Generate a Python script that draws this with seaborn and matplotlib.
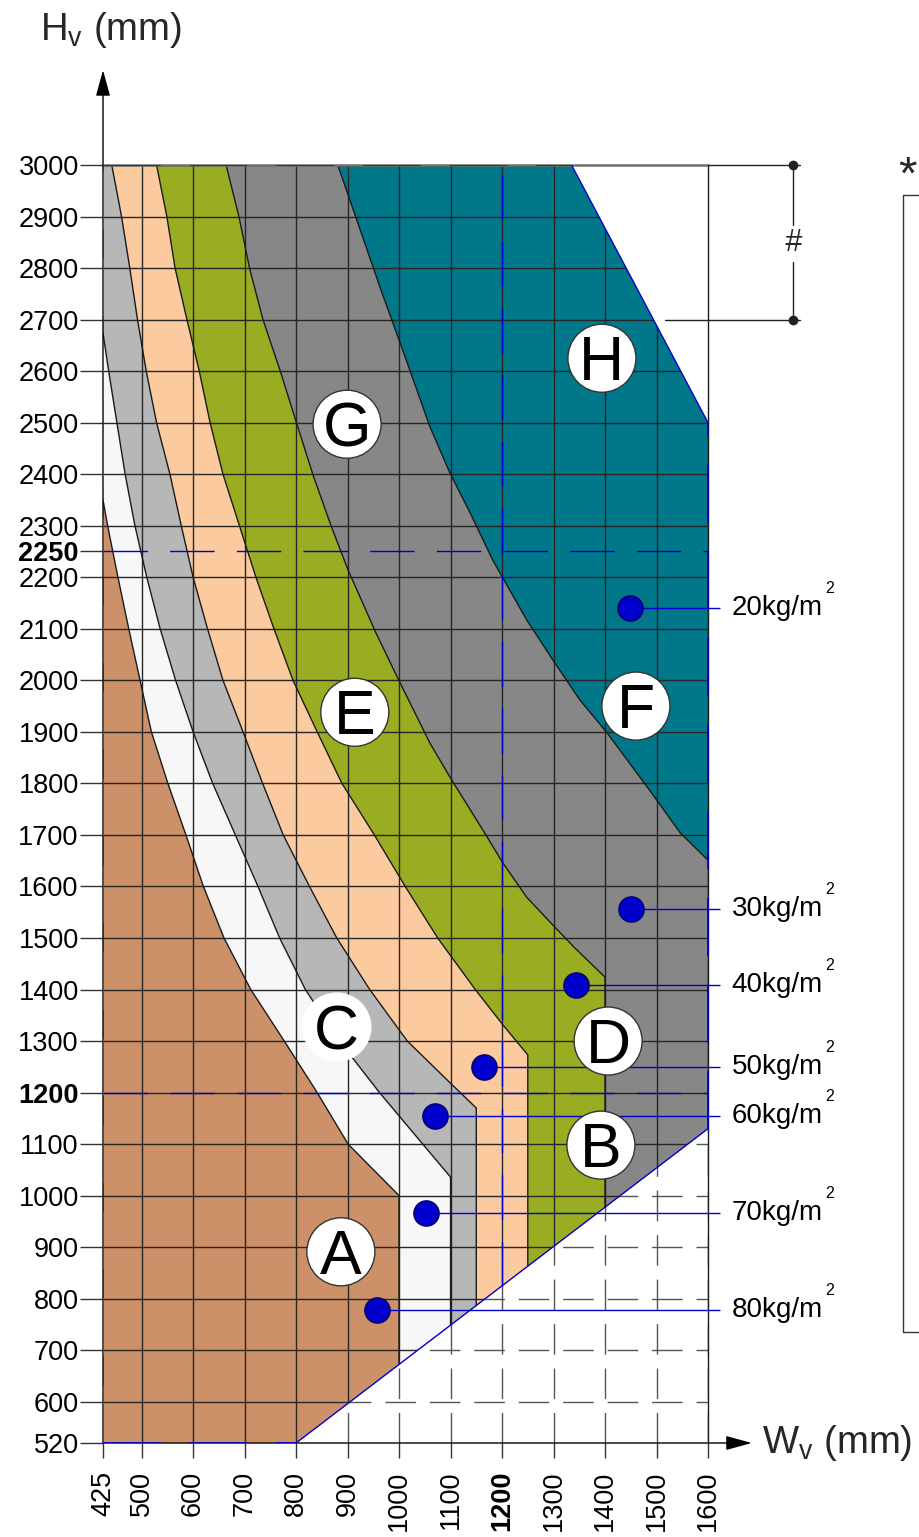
import numpy as np
import matplotlib
matplotlib.use('Agg')
import matplotlib.pyplot as plt
from matplotlib.patches import Polygon
import seaborn as sns

# ---------------- data ----------------
# band boundaries (Wv, Hv) from left (low) to right (high)
b1_w = [425, 434, 454, 475, 497, 519, 551, 586, 620, 660, 712, 777, 841, 901, 1000]
b1_h = [2350, 2300, 2200, 2100, 2000, 1900, 1800, 1700, 1600, 1500, 1400, 1300, 1200, 1100, 1000]
b2_w = [425, 436, 452, 468, 487, 510, 536, 566, 600, 638, 682, 726, 768, 818, 884, 962, 1046, 1100]
b2_h = [2674, 2600, 2500, 2400, 2300, 2200, 2100, 2000, 1900, 1800, 1700, 1600, 1500, 1400, 1300, 1200, 1100, 1036]
b3_w = [442, 461, 477, 492, 509, 529, 555, 577, 600, 628, 658, 697, 735, 775, 826, 879, 943, 1016, 1099, 1150]
b3_h = [3000, 2900, 2800, 2700, 2600, 2500, 2400, 2300, 2200, 2100, 2000, 1900, 1800, 1700, 1600, 1500, 1400, 1300, 1219, 1170]
b4_w = [529, 549, 565, 588, 612, 633, 658, 690, 722, 757, 794, 841, 889, 952, 1012, 1075, 1148, 1202, 1250]
b4_h = [3000, 2900, 2800, 2700, 2600, 2500, 2400, 2300, 2200, 2100, 2000, 1900, 1800, 1700, 1600, 1500, 1400, 1331, 1273]
b5_w = [664, 689, 710, 736, 770, 801, 833, 869, 901, 956, 1002, 1060, 1099, 1171, 1202, 1248, 1295, 1340, 1400]
b5_h = [3000, 2900, 2798, 2699, 2598, 2499, 2398, 2297, 2214, 2090, 1995, 1878, 1812, 1696, 1645, 1579, 1529, 1482, 1424]
b6_w = [881, 965, 1002, 1060, 1099, 1138, 1182, 1248, 1299, 1351, 1404, 1482, 1546, 1600]
b6_h = [3000, 2757, 2655, 2492, 2402, 2325, 2233, 2117, 2039, 1962, 1898, 1793, 1704, 1651]

# outer limits of the diagram
outer_w = [425, 800, 1600, 1600, 1335, 425]
outer_h = [520, 520, 1130, 2500, 3000, 3000]
diag_w = [800, 1600]
diag_h = [520, 1130]

# load points
dot_w = [1448, 1450, 1344, 1165, 1070, 1052, 957]
dot_h = [2140, 1556, 1409, 1250, 1154, 966, 778]
dot_lab = ['20', '30', '40', '50', '60', '70', '80']

# circled zone letters
lab_t = ['A', 'B', 'C', 'D', 'E', 'F', 'G', 'H']
lab_w = [887, 1392, 879, 1406, 914, 1460, 899, 1394]
lab_h = [891, 1098, 1327, 1300, 1938, 1950, 2497, 2625]

x_ticks = [425, 500, 600, 700, 800, 900, 1000, 1100, 1200, 1300, 1400, 1500, 1600]
y_ticks = [520, 600, 700, 800, 900, 1000, 1100, 1200, 1300, 1400, 1500, 1600, 1700,
           1800, 1900, 2000, 2100, 2200, 2250, 2300, 2400, 2500, 2600, 2700, 2800, 2900, 3000]
bold_ticks = [1200, 2250]

# ---------------- style ----------------
BROWN, WHITE, LGRAY, PEACH = '#CC9169', '#F7F7F7', '#B7B7B7', '#FBCA9F'
OLIVE, GRAY, TEAL = '#9AAD22', '#878787', '#00788A'
BLUE = '#0000CC'

sns.set_theme(style='white')
plt.rcParams['font.family'] = ['Liberation Sans', 'DejaVu Sans']
plt.rcParams['mathtext.fontset'] = 'custom'
plt.rcParams['mathtext.rm'] = 'Liberation Sans'
plt.rcParams['mathtext.it'] = 'Liberation Sans:italic'
plt.rcParams['mathtext.bf'] = 'Liberation Sans:bold'

fig = plt.figure(figsize=(9.19, 15.37), dpi=100)
fig.patch.set_facecolor('white')
ax = fig.add_axes([103 / 919, 1 - 1443 / 1537, 605 / 919, 1278 / 1537])
ax.set_xlim(425, 1600)
ax.set_ylim(520, 3000)
ax.set_facecolor('none')
for s in ax.spines.values():
    s.set_visible(False)

outer = Polygon(np.c_[outer_w, outer_h], closed=True, fc=TEAL, ec='none', zorder=1)
ax.add_patch(outer)
lower = Polygon([(800, 520), (1600, 1130), (1600, 520)], closed=True, fc='none', ec='none')
ax.add_patch(lower)

bounds = [(b6_w, b6_h, GRAY), (b5_w, b5_h, OLIVE), (b4_w, b4_h, PEACH),
          (b3_w, b3_h, LGRAY), (b2_w, b2_h, WHITE), (b1_w, b1_h, BROWN)]
for w, h, c in bounds:
    pts = list(zip(w, h))
    pre = [(200, 4000), (w[0], 4000)] if h[0] >= 3000 else [(200, h[0])]
    post = [(w[-1], 0), (200, 0)]
    poly = Polygon(pre + pts + post, closed=True, fc=c, ec='none', zorder=1.1)
    ax.add_patch(poly)
    poly.set_clip_path(outer)

# grid inside coloured area
xg = x_ticks[1:]
yg = [y for y in y_ticks if y % 100 == 0 and y > 520]
g1 = ax.vlines(xg, 520, 3000, colors='#262626', lw=1.0, zorder=2)
g2 = ax.hlines(yg, 425, 1600, colors='#262626', lw=1.0, zorder=2)
g1.set_clip_path(outer)
g2.set_clip_path(outer)
# dashed grid below the limit line
g3 = ax.vlines(xg, 520, 1200, colors='#555555', lw=1.0, linestyles=(0, (22, 10)), zorder=2)
g4 = ax.hlines(yg, 800, 1600, colors='#555555', lw=1.0, linestyles=(0, (22, 10)), zorder=2)
g3.set_clip_path(lower)
g4.set_clip_path(lower)

# boundary lines
for w, h, _ in bounds:
    ww, hh = list(w), list(h)
    if w[-1] < 1600:
        ww.append(w[-1])
        hh.append(float(np.interp(w[-1], diag_w, diag_h)))
    ax.plot(ww, hh, color='#1a1a1a', lw=1.0, zorder=3, solid_joinstyle='round')

# frame lines
ax.plot([425, 1600], [3000, 3000], color='#6e6e6e', lw=1.8, zorder=3, clip_on=False)
ax.plot([1600, 1600], [520, 3000], color='#1a1a1a', lw=1.0, zorder=3, clip_on=False)

# blue limit lines
ax.plot(diag_w, diag_h, color=BLUE, lw=1.0, zorder=4)
ax.plot([1335, 1600], [3000, 2500], color=BLUE, lw=1.0, zorder=4)
dash = (0, (32, 16))
ax.hlines([2250, 1200], 425, 1600, colors=BLUE, lw=1.0, linestyles=[dash], zorder=4)
ax.vlines([1200], float(np.interp(1200, diag_w, diag_h)), 3000, colors=BLUE, lw=1.0, linestyles=[dash], zorder=4)
ax.vlines([425], 520, 3000, colors='#4444dd', lw=1.3, linestyles=[dash], zorder=4)
ax.hlines([3000], 425, 1335, colors='#2222aa', lw=1.3, linestyles=[dash], zorder=4)
ax.hlines([520], 425, 800, colors=BLUE, lw=1.3, linestyles=[dash], zorder=4)
ax.vlines([1600], 1130, 2500, colors=BLUE, lw=1.3, linestyles=[dash], zorder=4, clip_on=False)

# load points, leaders and labels
ax.hlines(dot_h, dot_w, 1623, colors=BLUE, lw=1.0, zorder=4, clip_on=False)
sns.scatterplot(x=dot_w, y=dot_h, s=330, color=BLUE, edgecolor='#000066', linewidth=1.0,
                ax=ax, zorder=5, legend=False, clip_on=False)
for v, h in zip(dot_lab, dot_h):
    ax.annotate(f'{v}kg/m', xy=(1646, h), xytext=(0, -5), textcoords='offset points',
                ha='left', va='baseline', fontsize=20, color='black', annotation_clip=False)
    ax.annotate('2', xy=(1646, h), xytext=(70.5, 14), textcoords='offset points',
                ha='center', va='center', fontsize=11.5, color='black', annotation_clip=False)

# circled letters
edge = ['#333333' if t != 'C' else 'white' for t in lab_t]
ax.scatter(lab_w, lab_h, s=2400, c='white', edgecolors=edge, linewidths=1.0, zorder=6)
for t, w, h in zip(lab_t, lab_w, lab_h):
    ax.annotate(t, xy=(w, h), xytext=(0, -16), textcoords='offset points',
                ha='center', va='baseline', fontsize=45, color='black', zorder=7)

# dimension "#"
ax.plot([1600, 1779], [3000, 3000], color='#222222', lw=1.0, clip_on=False, zorder=3)
ax.plot([1516, 1779], [2700, 2700], color='#222222', lw=1.0, clip_on=False, zorder=3)
ax.plot([1765, 1765], [3000, 2884], color='#222222', lw=1.0, clip_on=False)
ax.plot([1765, 1765], [2812, 2700], color='#222222', lw=1.0, clip_on=False)
ax.plot([1765, 1765], [3000, 2700], ls='none', marker='o', ms=6, color='#222222', clip_on=False)
ax.text(1765, 2848, '#', ha='center', va='center', fontsize=22, style='italic', clip_on=False)

# right bracket with "*"
ax.plot([2010, 1979, 1979, 2010], [2942, 2942, 735, 735], color='#333333', lw=1.0, clip_on=False)
ax.text(1988, 2978, '*', ha='center', va='center', fontsize=34, clip_on=False)

# axes arrows
ax.annotate('', xy=(425, 3184), xytext=(425, 520),
            arrowprops=dict(arrowstyle='-|>,head_length=0.8,head_width=0.22', color='black',
                            lw=1.0, mutation_scale=20, shrinkA=0, shrinkB=0), annotation_clip=False)
ax.annotate('', xy=(1685, 520), xytext=(425, 520),
            arrowprops=dict(arrowstyle='-|>,head_length=0.8,head_width=0.22', color='black',
                            lw=1.0, mutation_scale=20, shrinkA=0, shrinkB=0), annotation_clip=False)
ax.text(303, 3262, r'H$_\mathrm{v}$ (mm)', ha='left', va='center', fontsize=27.5, clip_on=False)
ax.text(1705, 520, r'W$_\mathrm{v}$ (mm)', ha='left', va='center', fontsize=27.5, clip_on=False)

# ticks
ax.set_xticks(x_ticks)
ax.set_xticklabels([str(v) for v in x_ticks], rotation=90, fontsize=19.5)
ax.set_yticks(y_ticks)
ax.set_yticklabels([str(v) for v in y_ticks], fontsize=19.5)
ax.tick_params(axis='x', length=11, width=1.0, pad=9, direction='out', color='#333333',
               bottom=True, labelcolor='black')
ax.tick_params(axis='y', length=16.5, width=1.0, pad=1, direction='out', color='#333333',
               left=True, labelcolor='black')
for lbl in ax.get_xticklabels() + ax.get_yticklabels():
    if int(lbl.get_text()) in bold_ticks:
        lbl.set_fontweight('bold')
ax.grid(False)

fig.savefig('out.png', dpi=100, facecolor='white')
